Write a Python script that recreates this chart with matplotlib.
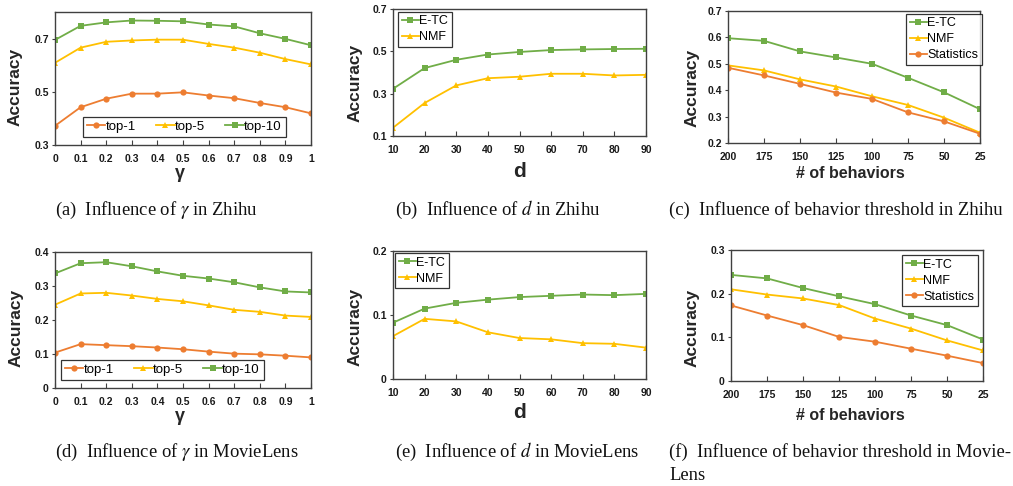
import numpy as np
import matplotlib
matplotlib.use("Agg")
import matplotlib.pyplot as plt

W, H = 1013, 486

# influence of gamma
gamma = [0, 0.1, 0.2, 0.3, 0.4, 0.5, 0.6, 0.7, 0.8, 0.9, 1]
gamma_labels = ['0', '0.1', '0.2', '0.3', '0.4', '0.5', '0.6', '0.7', '0.8', '0.9', '1']
zh_top1 = [0.372, 0.442, 0.474, 0.493, 0.493, 0.498, 0.486, 0.476, 0.458, 0.442, 0.419]
zh_top5 = [0.609, 0.666, 0.688, 0.693, 0.696, 0.696, 0.680, 0.666, 0.647, 0.623, 0.603]
zh_top10 = [0.695, 0.748, 0.761, 0.768, 0.767, 0.765, 0.753, 0.746, 0.720, 0.699, 0.675]
ml_top1 = [0.104, 0.129, 0.126, 0.123, 0.119, 0.114, 0.107, 0.101, 0.099, 0.095, 0.090]
ml_top5 = [0.245, 0.278, 0.280, 0.272, 0.262, 0.255, 0.243, 0.230, 0.224, 0.213, 0.209]
ml_top10 = [0.337, 0.367, 0.370, 0.358, 0.343, 0.330, 0.322, 0.311, 0.296, 0.284, 0.281]

# influence of d
dims = [10, 20, 30, 40, 50, 60, 70, 80, 90]
zh_d_etc = [0.323, 0.421, 0.460, 0.485, 0.497, 0.506, 0.509, 0.511, 0.512]
zh_d_nmf = [0.139, 0.256, 0.339, 0.373, 0.380, 0.394, 0.394, 0.386, 0.389]
ml_d_etc = [0.088, 0.110, 0.119, 0.124, 0.128, 0.130, 0.132, 0.131, 0.133]
ml_d_nmf = [0.067, 0.094, 0.090, 0.073, 0.064, 0.062, 0.056, 0.055, 0.049]

# influence of behavior threshold
behaviors = ['200', '175', '150', '125', '100', '75', '50', '25']
zh_b_etc = [0.597, 0.587, 0.547, 0.524, 0.500, 0.447, 0.392, 0.328]
zh_b_nmf = [0.494, 0.475, 0.441, 0.414, 0.377, 0.344, 0.296, 0.239]
zh_b_stat = [0.485, 0.456, 0.424, 0.391, 0.367, 0.316, 0.282, 0.235]
ml_b_etc = [0.243, 0.235, 0.213, 0.194, 0.176, 0.150, 0.128, 0.095]
ml_b_nmf = [0.210, 0.198, 0.189, 0.174, 0.143, 0.120, 0.093, 0.070]
ml_b_stat = [0.173, 0.150, 0.128, 0.101, 0.090, 0.074, 0.058, 0.041]

GREEN = '#70AD47'
GOLD = '#FFC000'
ORANGE = '#ED7D31'
SANS = ['Liberation Sans', 'DejaVu Sans']

plt.rcParams['font.family'] = SANS
plt.rcParams['mathtext.fontset'] = 'stix'

fig = plt.figure(figsize=(W / 100, H / 100), dpi=100)


def px_axes(left, top, right, bottom):
    return fig.add_axes([left / W, 1 - bottom / H, (right - left) / W, (bottom - top) / H])


def fmt(v):
    return '0' if v == 0 else '%.1f' % v


def panel(box, x, series, xticks, xticklabels, ylim, yticks, xlabel, xlsize,
          ylab_c, xlab_c, leg_box, ncol, colspace=0.6, legsize=9):
    left, top, right, bottom = box
    ax = px_axes(left, top, right, bottom)
    for vals, color, marker, label in series:
        ax.plot(x, vals, color=color, lw=1.3, marker=marker, ms=4.5,
                markeredgewidth=0, label=label)
    ax.set_xlim(x[0], x[-1])
    ax.set_ylim(*ylim)
    ax.set_xticks(xticks)
    ax.set_xticklabels(xticklabels)
    ax.set_yticks(yticks)
    ax.set_yticklabels([fmt(v) for v in yticks])
    ax.tick_params(axis='both', labelsize=7.5, labelcolor='#1a1a1a', color='#404040')
    ax.tick_params(axis='x', direction='in', length=3.5, width=0.8, pad=6.5)
    ax.tick_params(axis='y', direction='out', length=2.5, width=0.8, pad=2)
    for lab in ax.get_xticklabels() + ax.get_yticklabels():
        lab.set_fontweight('bold')
    for sp in ax.spines.values():
        sp.set_color('#404040')
        sp.set_linewidth(1.0)

    w = right - left
    h = bottom - top
    ax.set_ylabel('Accuracy', fontsize=12.5, fontweight='bold', va='center', color='#262626')
    ax.yaxis.set_label_coords((ylab_c[0] - left) / w, (bottom - ylab_c[1]) / h)
    ax.set_xlabel(xlabel, fontsize=xlsize, fontweight='bold', va='center', color='#262626')
    ax.xaxis.set_label_coords((xlab_c[0] - left) / w, (bottom - xlab_c[1]) / h)

    leg = ax.legend(loc='upper left', bbox_to_anchor=(leg_box[0] / W, 1 - leg_box[1] / H),
                    bbox_transform=fig.transFigure, borderaxespad=0, ncol=ncol,
                    fontsize=legsize, frameon=True, fancybox=False, handlelength=1.4,
                    handletextpad=0.02, columnspacing=colspace, labelspacing=0.32,
                    borderpad=0.28)
    leg.get_frame().set_edgecolor('#000000')
    leg.get_frame().set_linewidth(0.9)
    return ax


top_series_zh = [(zh_top1, ORANGE, 'o', 'top-1'), (zh_top5, GOLD, '^', 'top-5'),
                 (zh_top10, GREEN, 's', 'top-10')]
top_series_ml = [(ml_top1, ORANGE, 'o', 'top-1'), (ml_top5, GOLD, '^', 'top-5'),
                 (ml_top10, GREEN, 's', 'top-10')]

panel((55, 12, 311, 145), gamma, top_series_zh, gamma, gamma_labels,
      (0.3, 0.8), [0.3, 0.5, 0.7], '\u03b3', 13, (15, 87), (180, 174), (83, 117), 3, 1.55, 9.5)
panel((393, 9, 646, 136), dims, [(zh_d_etc, GREEN, 's', 'E-TC'), (zh_d_nmf, GOLD, '^', 'NMF')],
      dims, [str(d) for d in dims], (0.1, 0.7), [0.1, 0.3, 0.5, 0.7], 'd', 15,
      (355, 83), (519, 171), (398, 12), 1)
bx = list(range(len(behaviors)))
panel((728, 11, 980, 143), bx, [(zh_b_etc, GREEN, 's', 'E-TC'), (zh_b_nmf, GOLD, '^', 'NMF'),
                               (zh_b_stat, ORANGE, 'o', 'Statistics')],
      bx, behaviors, (0.2, 0.7), [0.2, 0.3, 0.4, 0.5, 0.6, 0.7], '# of behaviors', 11.5,
      (692, 88), (850, 173), (906, 14), 1)

panel((55, 252, 311, 388), gamma, top_series_ml, gamma, gamma_labels,
      (0, 0.4), [0, 0.1, 0.2, 0.3, 0.4], '\u03b3', 13, (16, 328), (180, 416), (61, 360), 3, 1.55, 9.5)
panel((393, 251, 646, 379), dims, [(ml_d_etc, GREEN, 's', 'E-TC'), (ml_d_nmf, GOLD, '^', 'NMF')],
      dims, [str(d) for d in dims], (0, 0.2), [0, 0.1, 0.2], 'd', 15,
      (355, 327), (519, 413), (395, 253), 1)
panel((731, 250, 983, 381), bx, [(ml_b_etc, GREEN, 's', 'E-TC'), (ml_b_nmf, GOLD, '^', 'NMF'),
                                (ml_b_stat, ORANGE, 'o', 'Statistics')],
      bx, behaviors, (0, 0.3), [0, 0.1, 0.2, 0.3], '# of behaviors', 11.5,
      (692, 328), (850, 415), (902, 255), 1)

# sub-figure captions
captions = [
    (55, 210, '(a)  Influence of $\\gamma$ in Zhihu'),
    (395, 210, '(b)  Influence of $d$ in Zhihu'),
    (669, 210, '(c)  Influence of behavior threshold in Zhihu'),
    (55, 452, '(d)  Influence of $\\gamma$ in MovieLens'),
    (395, 452, '(e)  Influence of $d$ in MovieLens'),
    (669, 452, '(f)  Influence of behavior threshold in Movie-'),
    (669, 475, 'Lens'),
]
for cx, cy, txt in captions:
    fig.text(cx / W, 1 - cy / H, txt, family='Liberation Serif', fontsize=13.4,
             ha='left', va='center', color='#111111')

fig.savefig('out.png', dpi=100)
